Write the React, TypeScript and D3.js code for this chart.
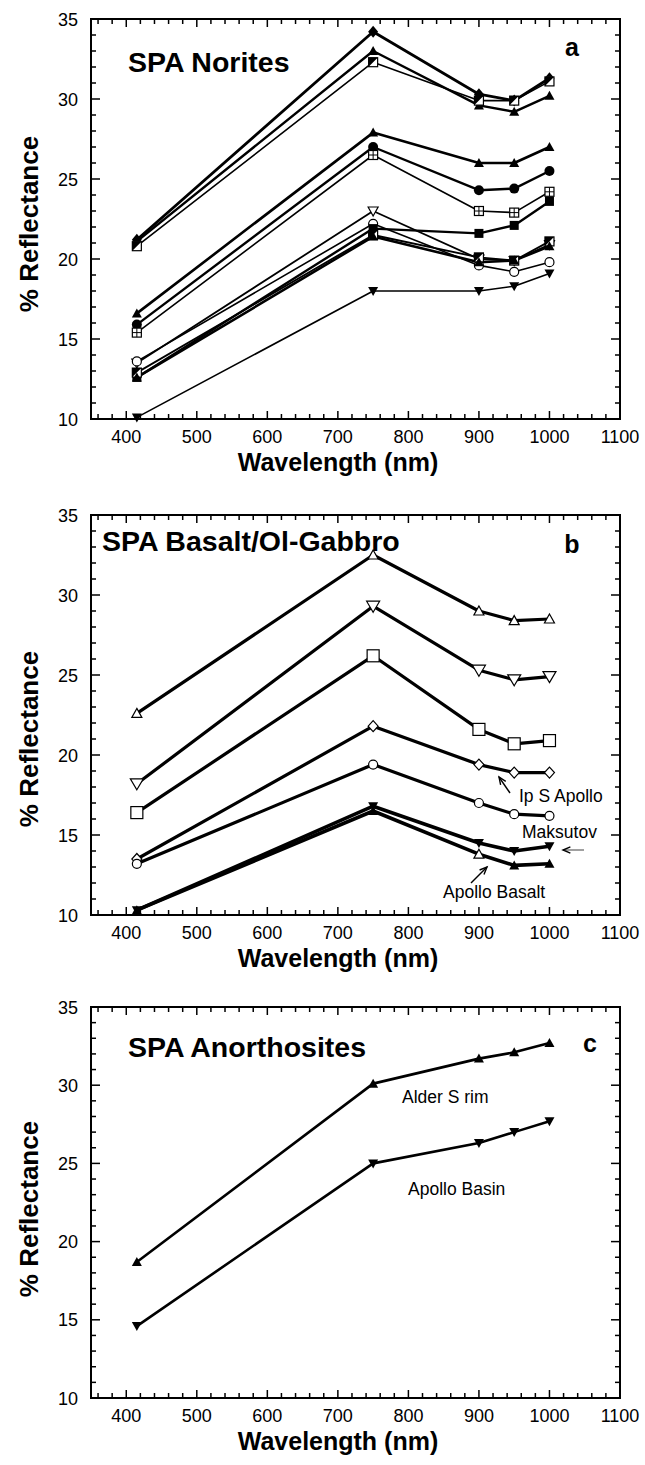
import React from "react";
import * as d3 from "d3";

// ---------- data ----------
const wavelengths = [415, 750, 900, 950, 1000];
const xTickLabels = [400, 500, 600, 700, 800, 900, 1000, 1100];
const yTickLabels = [10, 15, 20, 25, 30, 35];

// Panel a: SPA Norites
const noriteDiamond = [21.2, 34.2, 30.3, 29.9, 31.3];
const noriteTriA = [21.1, 33.0, 29.6, 29.2, 30.2];
const noriteHalfSqA = [20.8, 32.3, 29.9, 29.9, 31.1];
const noriteTriB = [16.6, 27.9, 26.0, 26.0, 27.0];
const noriteCircle = [15.9, 27.0, 24.3, 24.4, 25.5];
const noritePlusSq = [15.4, 26.5, 23.0, 22.9, 24.2];
const noriteOpenTriDown = [13.5, 23.0, 20.0, 19.9, 20.9];
const noriteOpenCircle = [13.6, 22.2, 19.6, 19.2, 19.8];
const noriteSquare = [12.6, 21.9, 21.6, 22.1, 23.6];
const noriteHalfSqB = [12.9, 21.5, 20.1, 19.9, 21.1];
const noriteTriC = [12.6, 21.4, 19.8, 19.9, 20.8];
const noriteTriDown = [10.1, 18.0, 18.0, 18.3, 19.1];

// Panel b: SPA Basalt/Ol-Gabbro
const basaltOpenTri = [22.6, 32.5, 29.0, 28.4, 28.5];
const basaltOpenTriDown = [18.2, 29.3, 25.3, 24.7, 24.9];
const basaltOpenSquare = [16.4, 26.2, 21.6, 20.7, 20.9];
const ipSApollo = [13.5, 21.8, 19.4, 18.9, 18.9];
const basaltOpenCircle = [13.2, 19.4, 17.0, 16.3, 16.2];
const maksutov = [10.3, 16.8, 14.5, 14.0, 14.3];
const apolloBasalt = [10.3, 16.5, 13.8, 13.1, 13.2];

// Panel c: SPA Anorthosites
const alderSRim = [18.7, 30.1, 31.7, 32.1, 32.7];
const apolloBasin = [14.6, 25.0, 26.3, 27.0, 27.7];

const FONT = "'Liberation Sans', Arial, Helvetica, sans-serif";

type Series = { values: number[]; marker: string; width: number; openAt?: number[] };

function Marker({ type, cx, cy }: { type: string; cx: number; cy: number }) {
  const sw = 1.2;
  const r = 5;
  switch (type) {
    case "diamond-f":
      return <path d={`M${cx},${cy - 6}L${cx + 5},${cy}L${cx},${cy + 6}L${cx - 5},${cy}Z`} fill="#000" />;
    case "diamond-o":
      return <path d={`M${cx},${cy - 5.5}L${cx + 5},${cy}L${cx},${cy + 5.5}L${cx - 5},${cy}Z`} fill="#fff" stroke="#000" strokeWidth={sw} />;
    case "tri-f":
      return <path d={`M${cx},${cy - r}L${cx + r},${cy + r * 0.8}L${cx - r},${cy + r * 0.8}Z`} fill="#000" />;
    case "tri-o":
      return <path d={`M${cx},${cy - r}L${cx + r},${cy + r * 0.8}L${cx - r},${cy + r * 0.8}Z`} fill="#fff" stroke="#000" strokeWidth={sw} />;
    case "tridown-f":
      return <path d={`M${cx},${cy + r}L${cx + r},${cy - r * 0.8}L${cx - r},${cy - r * 0.8}Z`} fill="#000" />;
    case "tridown-o":
      return <path d={`M${cx},${cy + r}L${cx + r},${cy - r * 0.8}L${cx - r},${cy - r * 0.8}Z`} fill="#fff" stroke="#000" strokeWidth={sw} />;
    case "tridown-o-big":
      return <path d={`M${cx},${cy + 6}L${cx + 6.5},${cy - 5}L${cx - 6.5},${cy - 5}Z`} fill="#fff" stroke="#000" strokeWidth={sw} />;
    case "circle-f":
      return <circle cx={cx} cy={cy} r={5} fill="#000" />;
    case "circle-o":
      return <circle cx={cx} cy={cy} r={4.5} fill="#fff" stroke="#000" strokeWidth={sw} />;
    case "square-f":
      return <rect x={cx - 4.5} y={cy - 4.5} width={9} height={9} fill="#000" />;
    case "square-o":
      return <rect x={cx - 4.5} y={cy - 4.5} width={9} height={9} fill="#fff" stroke="#000" strokeWidth={sw} />;
    case "square-o-big":
      return <rect x={cx - 6} y={cy - 6} width={12} height={12} fill="#fff" stroke="#000" strokeWidth={sw} />;
    case "square-half":
      return (
        <g>
          <rect x={cx - 4.5} y={cy - 4.5} width={9} height={9} fill="#fff" stroke="#000" strokeWidth={sw} />
          <path d={`M${cx - 4.5},${cy - 4.5}L${cx + 4.5},${cy - 4.5}L${cx - 4.5},${cy + 4.5}Z`} fill="#000" />
        </g>
      );
    case "square-plus":
      return (
        <g>
          <rect x={cx - 4.5} y={cy - 4.5} width={9} height={9} fill="#fff" stroke="#000" strokeWidth={sw} />
          <path d={`M${cx},${cy - 4.5}V${cy + 4.5}M${cx - 4.5},${cy}H${cx + 4.5}`} stroke="#000" strokeWidth={1} />
        </g>
      );
    default:
      return null;
  }
}

function Arrow({ x1, y1, x2, y2, color = "#000" }: { x1: number; y1: number; x2: number; y2: number; color?: string }) {
  const ang = Math.atan2(y2 - y1, x2 - x1);
  const L = 8;
  const a1 = ang + Math.PI - 0.4;
  const a2 = ang + Math.PI + 0.4;
  return (
    <g stroke={color} strokeWidth={1.4} fill="none">
      <line x1={x1} y1={y1} x2={x2} y2={y2} />
      <path d={`M${x2 + L * Math.cos(a1)},${y2 + L * Math.sin(a1)}L${x2},${y2}L${x2 + L * Math.cos(a2)},${y2 + L * Math.sin(a2)}`} stroke="#000" />
    </g>
  );
}

function Panel({
  top,
  bottom,
  title,
  titleX,
  titleY,
  letter,
  letterX,
  letterY,
  series,
  yLabelY,
  children,
}: {
  top: number;
  bottom: number;
  title: string;
  titleX: number;
  titleY: number;
  letter: string;
  letterX: number;
  letterY: number;
  series: Series[];
  yLabelY: number;
  children?: React.ReactNode;
}) {
  const x = d3.scaleLinear().domain([350, 1100]).range([91, 620]);
  const y = d3.scaleLinear().domain([10, 35]).range([bottom, top]);
  const line = d3
    .line<number>()
    .x((_, i) => x(wavelengths[i]))
    .y((v) => y(v));
  const xMinor = d3.range(360, 1100, 20);
  const yMinor = d3.range(11, 35, 1);
  const [x0, x1] = x.range();
  return (
    <g>
      {/* frame */}
      <rect x={x0} y={top} width={x1 - x0} height={bottom - top} fill="none" stroke="#000" strokeWidth={2} />
      {/* x ticks */}
      {xMinor.map((t) => {
        const major = t % 100 === 0;
        const len = major ? 8 : 5;
        return (
          <g key={"xt" + t} stroke="#000" strokeWidth={1.5}>
            <line x1={x(t)} x2={x(t)} y1={bottom} y2={bottom - len} />
            <line x1={x(t)} x2={x(t)} y1={top} y2={top + len} />
          </g>
        );
      })}
      {yMinor.map((t) => {
        const major = t % 5 === 0;
        const len = major ? 9 : 5;
        return (
          <g key={"yt" + t} stroke="#000" strokeWidth={1.5}>
            <line x1={x0} x2={x0 + len} y1={y(t)} y2={y(t)} />
            <line x1={x1} x2={x1 - len} y1={y(t)} y2={y(t)} />
          </g>
        );
      })}
      {/* tick labels */}
      {xTickLabels.map((t) => (
        <text key={"xl" + t} x={x(t)} y={bottom + 24} textAnchor="middle" fontFamily={FONT} fontSize={18}>
          {t}
        </text>
      ))}
      {yTickLabels.map((t) => (
        <text key={"yl" + t} x={x0 - 13} y={y(t) + 6.5} textAnchor="end" fontFamily={FONT} fontSize={18}>
          {t}
        </text>
      ))}
      {/* axis titles */}
      <text x={338} y={bottom + 52} textAnchor="middle" fontFamily={FONT} fontSize={25} fontWeight="bold">
        Wavelength (nm)
      </text>
      <text
        transform={`translate(38,${yLabelY}) rotate(-90)`}
        textAnchor="middle"
        fontFamily={FONT}
        fontSize={26}
        fontWeight="bold"
      >
        % Reflectance
      </text>
      {/* titles */}
      <text x={titleX} y={titleY} fontFamily={FONT} fontSize={28.5} fontWeight="bold">
        {title}
      </text>
      <text x={letterX} y={letterY} textAnchor="middle" fontFamily={FONT} fontSize={25} fontWeight="bold">
        {letter}
      </text>
      {/* series */}
      {series.map((s, si) => (
        <path key={"l" + si} d={line(s.values) || ""} fill="none" stroke="#000" strokeWidth={s.width} strokeLinejoin="round" />
      ))}
      {series.map((s, si) =>
        s.values.map((v, i) => {
          let m = s.marker;
          if (s.openAt && s.openAt.includes(i)) m = m.replace("-f", "-o");
          return <Marker key={"m" + si + "_" + i} type={m} cx={x(wavelengths[i])} cy={y(v)} />;
        })
      )}
      {children}
    </g>
  );
}

export default function App() {
  const seriesA: Series[] = [
    { values: noriteDiamond, marker: "diamond-f", width: 2.8 },
    { values: noriteTriA, marker: "tri-f", width: 2.4 },
    { values: noriteHalfSqA, marker: "square-half", width: 1.6 },
    { values: noriteTriB, marker: "tri-f", width: 2.6 },
    { values: noriteCircle, marker: "circle-f", width: 2.4 },
    { values: noritePlusSq, marker: "square-plus", width: 1.6 },
    { values: noriteOpenTriDown, marker: "tridown-o", width: 1.8 },
    { values: noriteOpenCircle, marker: "circle-o", width: 1.6 },
    { values: noriteSquare, marker: "square-f", width: 2.4 },
    { values: noriteHalfSqB, marker: "square-half", width: 1.8 },
    { values: noriteTriC, marker: "tri-f", width: 2.6 },
    { values: noriteTriDown, marker: "tridown-f", width: 1.6 },
  ];
  const seriesB: Series[] = [
    { values: basaltOpenTri, marker: "tri-o", width: 3.2 },
    { values: basaltOpenTriDown, marker: "tridown-o-big", width: 3.2 },
    { values: basaltOpenSquare, marker: "square-o-big", width: 3.2 },
    { values: ipSApollo, marker: "diamond-o", width: 3.2 },
    { values: basaltOpenCircle, marker: "circle-o", width: 3.2 },
    { values: maksutov, marker: "tridown-f", width: 3.6 },
    { values: apolloBasalt, marker: "tri-f", width: 3.6, openAt: [2] },
  ];
  const seriesC: Series[] = [
    { values: alderSRim, marker: "tri-f", width: 2.6 },
    { values: apolloBasin, marker: "tridown-f", width: 2.6 },
  ];

  return (
    <svg
      width={645}
      height={1465}
      style={{ position: "absolute", left: 0, top: 0, background: "#fff" }}
      xmlns="http://www.w3.org/2000/svg"
    >
      <rect width={645} height={1465} fill="#fff" />
      <Panel
        top={19}
        bottom={419}
        title="SPA Norites"
        titleX={128}
        titleY={72}
        letter="a"
        letterX={572}
        letterY={56}
        series={seriesA}
        yLabelY={224}
      />
      <Panel
        top={515}
        bottom={915}
        title="SPA Basalt/Ol-Gabbro"
        titleX={102}
        titleY={551}
        letter="b"
        letterX={572}
        letterY={553}
        series={seriesB}
        yLabelY={739}
      >
        <text x={519} y={802} fontFamily={FONT} fontSize={17.5}>
          Ip S Apollo
        </text>
        <Arrow x1={510} y1={793} x2={499} y2={777} />
        <text x={522} y={838} fontFamily={FONT} fontSize={17.5}>
          Maksutov
        </text>
        <Arrow x1={584} y1={850} x2={563} y2={850} color="#777" />
        <text x={443} y={898} fontFamily={FONT} fontSize={17.5}>
          Apollo Basalt
        </text>
        <Arrow x1={471} y1={883} x2={487} y2={867} />
      </Panel>
      <Panel
        top={1007}
        bottom={1398}
        title="SPA Anorthosites"
        titleX={128}
        titleY={1057}
        letter="c"
        letterX={590}
        letterY={1052}
        series={seriesC}
        yLabelY={1209}
      >
        <text x={402} y={1103} fontFamily={FONT} fontSize={17.5}>
          Alder S rim
        </text>
        <text x={408} y={1195} fontFamily={FONT} fontSize={17.5}>
          Apollo Basin
        </text>
      </Panel>
    </svg>
  );
}
